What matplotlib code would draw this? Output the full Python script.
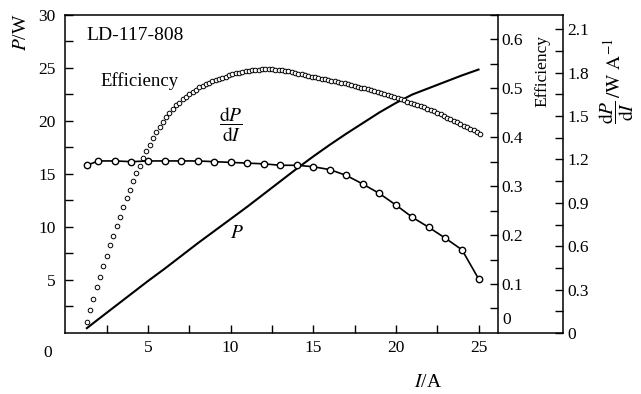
import numpy as np
import matplotlib
matplotlib.use("Agg")
import matplotlib.pyplot as plt

plt.rcParams['font.family'] = ['Liberation Serif', 'DejaVu Serif']
plt.rcParams['mathtext.fontset'] = 'stix'
plt.rcParams['font.size'] = 12.5

# output power P (W) vs current I (A)
p_current = [1.3, 2, 3, 4, 5, 6, 7, 8, 9, 10, 11, 12, 13, 14, 15, 16, 17, 18,
             19, 20, 21, 22, 23, 24, 25]
p_power = [0.45, 1.3, 2.5, 3.7, 4.9, 6.05, 7.25, 8.45, 9.6, 10.75, 11.9, 13.1,
           14.3, 15.5, 16.65, 17.75, 18.8, 19.8, 20.8, 21.7, 22.5, 23.1, 23.7,
           24.3, 24.85]

# slope efficiency dP/dI (W/A), measured every 1 A
dpdi_current = p_current
dpdi = [1.16, 1.19, 1.19, 1.185, 1.19, 1.19, 1.19, 1.19, 1.185, 1.18, 1.175,
        1.17, 1.16, 1.16, 1.15, 1.13, 1.09, 1.03, 0.965, 0.885, 0.80, 0.73,
        0.655, 0.575, 0.375]

# conversion efficiency, dense sampling every 0.2 A from 1.3 A to 25.1 A
eff_current = np.round(np.arange(1.3, 25.11, 0.2), 1)
efficiency = [
    0.022, 0.046, 0.069, 0.093, 0.115, 0.137, 0.158, 0.180, 0.199, 0.219,
    0.238, 0.257, 0.275, 0.293, 0.310, 0.326, 0.342, 0.358, 0.372, 0.385,
    0.398, 0.410, 0.420, 0.431, 0.441, 0.450, 0.457, 0.465, 0.471, 0.478,
    0.483, 0.489, 0.493, 0.497, 0.502, 0.505, 0.508, 0.511, 0.515, 0.517,
    0.519, 0.522, 0.524, 0.527, 0.529, 0.531, 0.532, 0.533, 0.535, 0.536,
    0.537, 0.538, 0.538, 0.539, 0.539, 0.539, 0.539, 0.538, 0.538, 0.537,
    0.536, 0.535, 0.533, 0.531, 0.530, 0.529, 0.527, 0.526, 0.524, 0.523,
    0.522, 0.520, 0.519, 0.518, 0.516, 0.515, 0.513, 0.511, 0.510, 0.508,
    0.507, 0.505, 0.503, 0.501, 0.500, 0.498, 0.496, 0.494, 0.492, 0.490,
    0.488, 0.486, 0.484, 0.482, 0.480, 0.478, 0.476, 0.473, 0.471, 0.469,
    0.466, 0.464, 0.461, 0.458, 0.456, 0.453, 0.450, 0.447, 0.444, 0.440,
    0.437, 0.434, 0.431, 0.427, 0.424, 0.421, 0.417, 0.414, 0.410, 0.407,
]

fig = plt.figure(figsize=(6.41, 3.94), dpi=100)
ax = fig.add_axes([0.102, 0.155, 0.776, 0.807])
ax_eff = ax.twinx()
ax_dp = ax.twinx()

x_max = 30.1
x_inner = 26.15

# P line
ax.plot(p_current, p_power, color='black', lw=1.5)
ax.set_xlim(0, x_max)
ax.set_ylim(0, 30)
xt = np.arange(2.5, 25.1, 2.5)
ax.set_xticks(xt)
ax.set_xticklabels(['' if v % 5 else str(int(v)) for v in xt])
yt = np.arange(2.5, 30.1, 2.5)
ax.set_yticks(yt)
ax.set_yticklabels(['' if v % 5 else str(int(v)) for v in yt])
ax.tick_params(axis='x', direction='in', length=5.5, width=1, pad=5)
ax.tick_params(axis='y', direction='in', length=6, width=1, pad=7, right=False)
ax.spines['right'].set_visible(False)
for s in ['left', 'bottom', 'top']:
    ax.spines[s].set_linewidth(1.1)

# efficiency on inner right axis
ax_eff.plot(eff_current, efficiency, ls='none', marker='o', ms=3.3,
            mfc='white', mec='black', mew=0.7)
ax_eff.set_ylim(0, 0.65)
ax_eff.spines['right'].set_position(('data', x_inner))
ax_eff.spines['right'].set_linewidth(1.1)
for s in ['left', 'top', 'bottom']:
    ax_eff.spines[s].set_visible(False)
eff_ticks = np.arange(0.05, 0.651, 0.05)
ax_eff.set_yticks(eff_ticks)
ax_eff.set_yticklabels([('%.1f' % v) if abs(v * 10 - round(v * 10)) < 1e-6 else ''
                        for v in eff_ticks])
ax_eff.tick_params(axis='y', direction='in', length=6, width=1, pad=3)
ax_eff.text(x_inner + 0.3, 0.027, '0', ha='left', va='center')
ax_eff.text(28.85, 0.535, 'Efficiency', rotation=90, ha='center', va='center',
            fontsize=12.5)

# dP/dI on outer right axis
ax_dp.plot(dpdi_current, dpdi, color='black', lw=1.2, marker='o', ms=4.6,
           mfc='white', mec='black', mew=1.0)
ax_dp.set_ylim(0, 2.2)
ax_dp.spines['right'].set_linewidth(1.1)
for s in ['left', 'top', 'bottom']:
    ax_dp.spines[s].set_visible(False)
dp_ticks = np.arange(0, 2.21, 0.15)
ax_dp.set_yticks(dp_ticks)
ax_dp.set_yticklabels([('%g' % round(v, 1)) if i % 2 == 0 else ''
                       for i, v in enumerate(dp_ticks)])
ax_dp.tick_params(axis='y', direction='in', length=6, width=1, pad=3)
fig.text(0.962, 0.795, r'$\dfrac{\mathrm{d}P}{\mathrm{d}I}\,/\mathrm{W\ A}^{-1}$',
         rotation=90, ha='center', va='center', fontsize=14)

# axis labels
ax.text(-0.088, 0.945, r'$P$/W', transform=ax.transAxes, rotation=90,
        ha='center', va='center', fontsize=14)
ax.text(0.73, -0.155, r'$I$/A', transform=ax.transAxes,
        ha='center', va='center', fontsize=14)
ax.text(-1.05, -1.9, '0', ha='center', va='center', clip_on=False)

# annotations
ax.text(1.3, 28.1, 'LD-117-808', ha='left', va='center', fontsize=14)
ax.text(2.1, 23.8, 'Efficiency', ha='left', va='center', fontsize=13.5)
ax.text(10.0, 19.6, r'$\dfrac{\mathrm{d}P}{\mathrm{d}I}$', ha='center',
        va='center', fontsize=14)
ax.text(10.4, 9.4, r'$P$', ha='center', va='center', fontsize=14)

fig.savefig('out.png', dpi=100)
